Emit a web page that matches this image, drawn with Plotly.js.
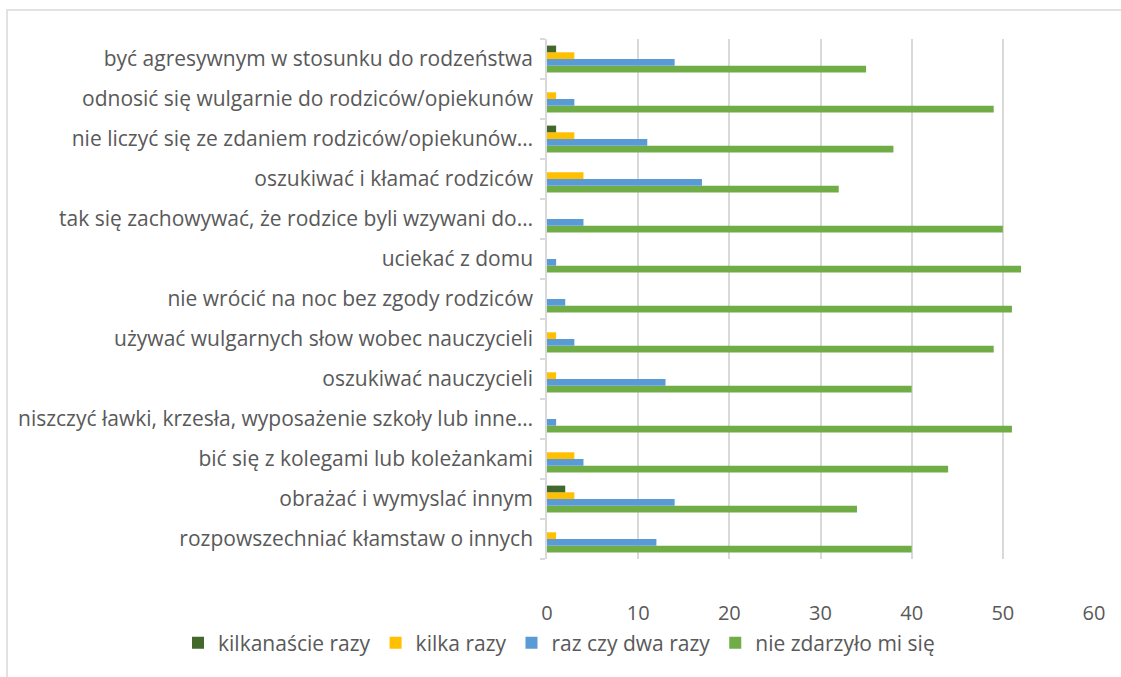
<!DOCTYPE html>
<html>
<head>
<meta charset="utf-8">
<script src="https://cdn.plot.ly/plotly-3.0.1.min.js"></script>
<style>html,body{margin:0;padding:0;background:#fff;}#chart{width:1121px;height:677px;}</style>
</head>
<body>
<div id="chart"></div>
<script>
// categories listed bottom to top
const categories = [
  "rozpowszechniać kłamstaw o innych",
  "obrażać i wymyslać innym",
  "bić się z kolegami lub koleżankami",
  "niszczyć ławki, krzesła, wyposażenie szkoły lub inne…",
  "oszukiwać nauczycieli",
  "używać wulgarnych słow wobec nauczycieli",
  "nie wrócić na noc bez zgody rodziców",
  "uciekać z domu",
  "tak się zachowywać, że rodzice byli wzywani do…",
  "oszukiwać i kłamać rodziców",
  "nie liczyć się ze zdaniem rodziców/opiekunów…",
  "odnosić się wulgarnie do rodziców/opiekunów",
  "być agresywnym w stosunku do rodzeństwa"
];
const kilkanascieRazy = [0, 2, 0, 0, 0, 0, 0, 0, 0, 0, 1, 0, 1];
const kilkaRazy       = [1, 3, 3, 0, 1, 1, 0, 0, 0, 4, 3, 1, 3];
const razCzyDwaRazy   = [12, 14, 4, 1, 13, 3, 2, 1, 4, 17, 11, 3, 14];
const nieZdarzyloMiSie = [40, 34, 44, 51, 40, 49, 51, 52, 50, 32, 38, 49, 35];
const seriesNames = ["kilkanaście razy", "kilka razy", "raz czy dwa razy", "nie zdarzyło mi się"];
const seriesColors = ["#43682B", "#FFC000", "#5B9BD5", "#70AD47"];
const xTicks = [0, 10, 20, 30, 40, 50, 60];

const seriesValues = [kilkanascieRazy, kilkaRazy, razCzyDwaRazy, nieZdarzyloMiSie];
const traces = [];
for (let i = seriesValues.length - 1; i >= 0; i--) {
  traces.push({
    type: 'bar', orientation: 'h',
    name: seriesNames[i],
    y: categories, x: seriesValues[i],
    marker: {color: seriesColors[i]},
    hoverinfo: 'x+name'
  });
}
const txt = '#595959';
const fam = '"Open Sans", Lato, sans-serif';
const layout = {
  width: 1121, height: 677,
  paper_bgcolor: '#fff', plot_bgcolor: '#fff',
  font: {family: fam, size: 20, color: txt},
  margin: {l: 547, r: 27, t: 39, b: 118},
  barmode: 'group', bargap: 0.33, bargroupgap: 0,
  showlegend: true,
  legend: {orientation: 'h', traceorder: 'reversed',
           x: (178 - 547) / 547, xanchor: 'left', y: (559 - 643) / 520, yanchor: 'middle',
           bgcolor: 'rgba(0,0,0,0)',
           font: {family: fam, size: 21, color: txt}},
  xaxis: {range: [0, 60], tickvals: xTicks, ticktext: xTicks.map(String),
          showgrid: true, gridcolor: '#D9D9D9', gridwidth: 1.5, zeroline: false,
          showline: false, ticks: '', ticklabelstandoff: 40,
          tickfont: {family: fam, size: 20, color: txt}},
  yaxis: {type: 'category', categoryorder: 'array', categoryarray: categories,
          showline: true, linecolor: '#D9D9D9', linewidth: 1.5,
          ticks: 'outside', tickson: 'boundaries', ticklen: 5, tickcolor: '#D9D9D9', tickwidth: 1.5,
          ticklabelstandoff: 8,
          showgrid: false, zeroline: false, automargin: false,
          tickfont: {family: fam, size: 21, color: txt}},
  shapes: [{type: 'rect', xref: 'paper', yref: 'paper', layer: 'below',
            x0: (7 - 547) / 547, x1: 1.2, y0: -0.5, y1: 1 + 29 / 520,
            line: {color: '#D9D9D9', width: 1.5}, fillcolor: 'rgba(0,0,0,0)'}]
};
Plotly.newPlot('chart', traces, layout, {displayModeBar: false});
</script>
</body>
</html>
